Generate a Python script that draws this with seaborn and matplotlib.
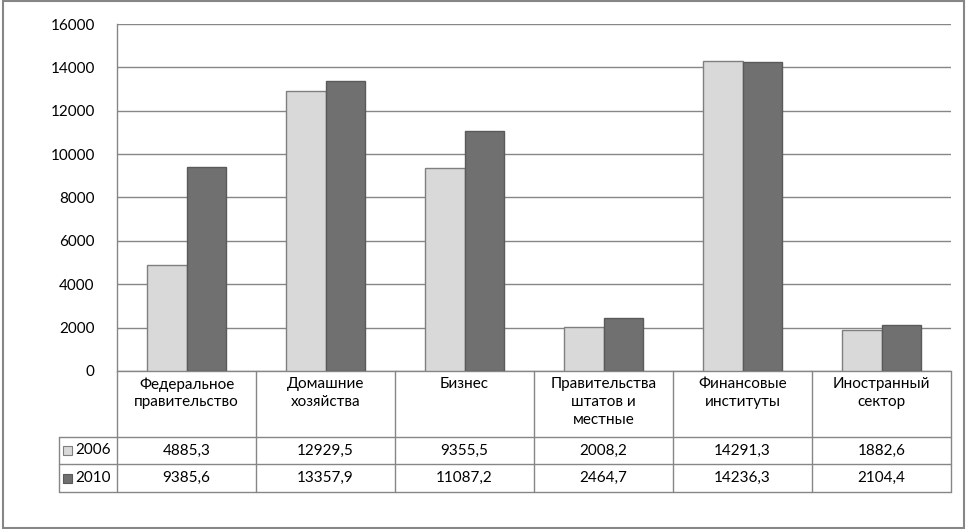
import matplotlib
matplotlib.use("Agg")
import matplotlib.pyplot as plt
import matplotlib.transforms as mtransforms
from matplotlib.lines import Line2D
from matplotlib.patches import Rectangle
import pandas as pd
import seaborn as sns

# ------------------------------------------------------
# Data
# ------------------------------------------------------
categories = [
    "Федеральное\nправительство",
    "Домашние\nхозяйства",
    "Бизнес",
    "Правительства\nштатов и\nместные",
    "Финансовые\nинституты",
    "Иностранный\nсектор",
]
years = ["2006", "2010"]
values_2006 = [4885.3, 12929.5, 9355.5, 2008.2, 14291.3, 1882.6]
values_2010 = [9385.6, 13357.9, 11087.2, 2464.7, 14236.3, 2104.4]
y_ticks = [0, 2000, 4000, 6000, 8000, 10000, 12000, 14000, 16000]

fill_colors = ["#d9d9d9", "#707070"]
edge_colors = ["#7f7f7f", "#5a5a5a"]
grid_color = "#868686"

df = pd.DataFrame({
    "category": categories * 2,
    "value": values_2006 + values_2010,
    "year": [years[0]] * len(categories) + [years[1]] * len(categories),
})

sns.set_theme(style="white")
plt.rcParams["font.family"] = ["Lato", "DejaVu Sans"]

W, H = 972, 529
fig = plt.figure(figsize=(W / 100, H / 100), dpi=100)


def fx(x):
    return x / W


def fy(y):
    return 1 - y / H


ax = fig.add_axes([fx(117), fy(371), fx(951) - fx(117), fy(24) - fy(371)])

sns.barplot(
    data=df,
    x="category",
    y="value",
    hue="year",
    palette=fill_colors,
    width=0.57,
    linewidth=1.0,
    legend=False,
    ax=ax,
)

for container, ec in zip(ax.containers, edge_colors):
    for bar in container:
        bar.set_edgecolor(ec)
        bar.set_zorder(3)

ax.set_xlim(-0.5, len(categories) - 0.5)
ax.set_ylim(0, 16000)
ax.set_yticks(y_ticks)
ax.set_yticklabels([str(t) for t in y_ticks], fontsize=11, color="#000000")
ax.tick_params(axis="y", length=0, pad=16)
ax.set_xticks([])
ax.set_xlabel("")
ax.set_ylabel("")
ax.yaxis.grid(True, color=grid_color, linewidth=1.0)
ax.set_axisbelow(True)

for side in ["top", "right", "bottom"]:
    ax.spines[side].set_visible(False)
ax.spines["left"].set_color(grid_color)
ax.spines["left"].set_linewidth(1.0)

# ------------------------------------------------------
# Data table under the chart
# ------------------------------------------------------
tr = mtransforms.blended_transform_factory(ax.transData, fig.transFigure)
line_kw = dict(color=grid_color, linewidth=1.0, clip_on=False)

x_left = -0.5
x_right = len(categories) - 0.5
key_left = fx(59)
header_top = fy(371)
row_bounds = [fy(437), fy(464), fy(492)]

# horizontal lines
ax.add_line(Line2D([x_left, x_right], [header_top, header_top], transform=tr, **line_kw))
x_key_left = ax.transData.inverted().transform(fig.transFigure.transform((key_left, 0)))[0]
for yb in row_bounds:
    ax.add_line(Line2D([x_key_left, x_right], [yb, yb], transform=tr, **line_kw))

# vertical lines
for i in range(len(categories) + 1):
    xb = x_left + i
    ax.add_line(Line2D([xb, xb], [header_top, row_bounds[-1]], transform=tr, **line_kw))
ax.add_line(Line2D([x_key_left, x_key_left], [row_bounds[0], row_bounds[-1]], transform=tr, **line_kw))

# category labels
for i, cat in enumerate(categories):
    ax.text(i, fy(377), cat, transform=tr, ha="center", va="top",
            fontsize=11, linespacing=1.35, color="#000000")

# value rows
series = [values_2006, values_2010]
for r, (year, vals) in enumerate(zip(years, series)):
    y_mid = (row_bounds[r] + row_bounds[r + 1]) / 2
    for i, v in enumerate(vals):
        ax.text(i, y_mid, f"{v:.1f}".replace(".", ","), transform=tr,
                ha="center", va="center", fontsize=11, color="#000000")
    # legend key
    fig.add_artist(Rectangle((fx(63), y_mid - 0.5 * (9 / H)), 9 / W, 9 / H,
                             transform=fig.transFigure, facecolor=fill_colors[r],
                             edgecolor=edge_colors[r], linewidth=0.8))
    fig.text(fx(75), y_mid, year, ha="left", va="center", fontsize=11, color="#000000")

# outer chart border
fig.add_artist(Rectangle((fx(3), fy(528)), fx(964) - fx(3), fy(1) - fy(528),
                         transform=fig.transFigure, fill=False,
                         edgecolor=grid_color, linewidth=1.5))

fig.savefig("out.png", dpi=100, facecolor="white")
